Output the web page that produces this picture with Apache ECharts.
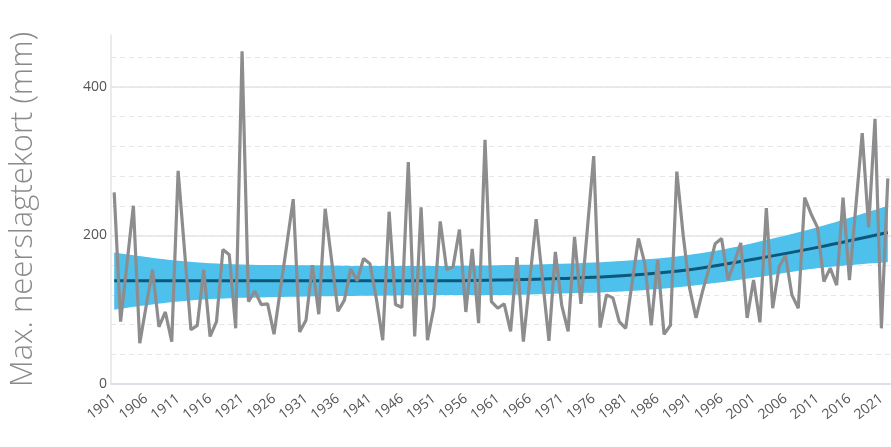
<!DOCTYPE html>
<html><head><meta charset="utf-8">
<script src="https://cdn.jsdelivr.net/npm/echarts@6/dist/echarts.min.js"></script>
<style>html,body{margin:0;padding:0;background:#fff}#c{width:891px;height:447px}</style>
</head><body><div id="c"></div>
<script>
const firstYear = 1901, lastYear = 2022;
const years = [];
for (let y = firstYear; y <= lastYear; y++) years.push(String(y));

// annual maximum precipitation deficit (mm), 1901-2022
const maxDeficit = [
  258, 84, 162, 240, 55, 105, 154, 77, 97, 57,
  287, 180, 73, 79, 154, 64, 84, 181, 174, 75,
  448, 111, 125, 107, 108, 67, 128, 188, 249, 70,
  86, 160, 94, 236, 167, 98, 113, 155, 139, 169,
  162, 115, 59, 232, 107, 103, 299, 64, 238, 59,
  103, 219, 154, 158, 208, 97, 182, 82, 329, 111,
  102, 108, 71, 171, 57, 140, 222, 140, 58, 178,
  106, 71, 198, 108, 208, 307, 76, 120, 116, 84,
  75, 136, 196, 162, 79, 167, 67, 79, 286, 200,
  129, 89, 124, 155, 189, 196, 140, 164, 190, 89,
  140, 83, 237, 102, 158, 173, 120, 102, 251, 229,
  211, 138, 156, 133, 251, 140, 239, 338, 211, 357,
  75, 277
];

// trend and its uncertainty band (read at anchor years)
const trendYears  = ['1901','1911','1921','1931','1941','1951','1961','1971','1981','1991','2001','2011','2022'];
const trendValues = [139, 139, 139, 139, 139, 139, 140, 142, 146, 154, 168, 184, 204];
const bandUpper   = [177, 166, 161, 160, 159, 159, 160, 162, 166, 174, 190, 211, 240];
const bandLower   = [100, 111, 116, 118, 119, 120, 120, 122, 125, 132, 143, 156, 164];

const yLabelTicks = [0, 200, 400];

const anchorIdx = trendYears.map(y => years.indexOf(y));
const lowerData = anchorIdx.map((ix, k) => [ix, bandLower[k]]);
const widthData = anchorIdx.map((ix, k) => [ix, bandUpper[k] - bandLower[k]]);
const trendData = anchorIdx.map((ix, k) => [ix, trendValues[k]]);

const FONT = 'Open Sans';
const chart = echarts.init(document.getElementById('c'), null, {renderer: 'canvas'});
chart.setOption({
  animation: false,
  backgroundColor: '#ffffff',
  grid: {left: 111, right: -2, top: 35, bottom: 63, containLabel: false},
  xAxis: {
    type: 'category',
    data: years,
    boundaryGap: true,
    axisLine: {show: true, lineStyle: {color: '#dde0e7', width: 2}},
    axisTick: {show: false},
    splitLine: {show: false},
    axisLabel: {interval: 4, rotate: 38, color: '#555', fontSize: 14, fontFamily: FONT, margin: 13}
  },
  yAxis: [{
    type: 'value', min: 0, max: 470, interval: 200,
    position: 'left',
    axisLine: {show: true, lineStyle: {color: '#e3e5ea', width: 1.5}},
    axisTick: {show: false},
    axisLabel: {color: '#555', fontSize: 14, fontFamily: FONT, margin: 4, showMaxLabel: false,
      formatter: v => yLabelTicks.indexOf(v) >= 0 ? String(v) : ''},
    splitLine: {show: true, showMaxLine: false, showMinLine: false, lineStyle: {color: '#e4e4e4', width: 1.5}},
    name: 'Max. neerslagtekort (mm)',
    nameLocation: 'middle', nameGap: 72,
    nameTextStyle: {color: '#8a8a8a', fontSize: 31, fontFamily: FONT, fontWeight: 300}
  }, {
    type: 'value', min: 0, max: 470, interval: 40,
    position: 'left',
    axisLine: {show: false}, axisTick: {show: false}, axisLabel: {show: false},
    splitLine: {show: true, showMaxLine: false, showMinLine: false, lineStyle: {color: '#e6e6e6', width: 1, type: [5, 4]}}
  }],
  series: [{
    type: 'line', data: lowerData, stack: 'band', smooth: 0.4,
    symbol: 'none', lineStyle: {opacity: 0}, z: 1, silent: true
  }, {
    type: 'line', data: widthData, stack: 'band', smooth: 0.4,
    symbol: 'none', lineStyle: {opacity: 0}, areaStyle: {color: '#4ec0ec', opacity: 1}, z: 1, silent: true
  }, {
    type: 'line', data: trendData, smooth: 0.4,
    symbol: 'none', lineStyle: {color: '#0d587a', width: 3}, z: 2
  }, {
    type: 'line', data: maxDeficit,
    symbol: 'none', lineStyle: {color: '#8d8d8f', width: 3.2}, z: 3
  }]
});
</script>
</body></html>
